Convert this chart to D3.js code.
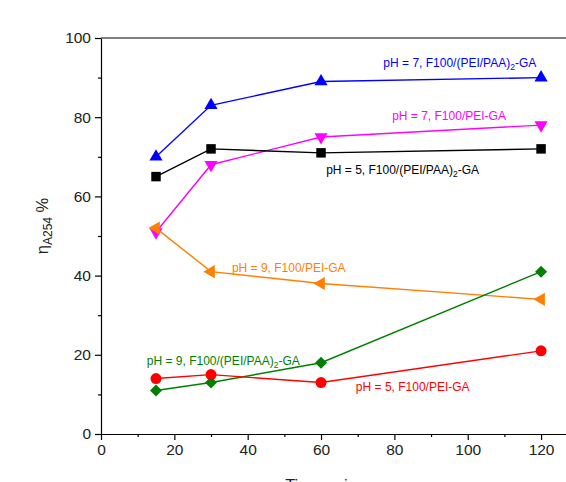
<!DOCTYPE html>
<html>
<head>
<meta charset="utf-8">
<script src="https://cdn.jsdelivr.net/npm/d3@7"></script>
<style>
  body { margin: 0; background: #fff; }
  svg { display: block; font-family: "Liberation Sans", Arial, sans-serif; }
</style>
</head>
<body>
<script>
const width = 566
const height = 482
const margin = ({top: 38, right: 0, bottom: 48, left: 101})

// time, min
const times = [15, 30, 60, 120]

// eta A254 %
const ph7PeiPaa = [70, 83, 89, 90]
const ph7Pei = [51, 68, 75, 78]
const ph5PeiPaa = [65, 72, 71, 72]
const ph9Pei = [52, 41, 38, 34]
const ph9PeiPaa = [11, 13, 18, 41]
const ph5Pei = [14, 15, 13, 21]

const xTicks = [0, 20, 40, 60, 80, 100, 120]
const yTicks = [0, 20, 40, 60, 80, 100]

const series = [
    {name: "pH = 7, F100/(PEI/PAA)", sub: "2", tail: "-GA", values: ph7PeiPaa, color: "#0000ff", shape: "up", lx: 77, ly: 92.6},
    {name: "pH = 7, F100/PEI-GA", values: ph7Pei, color: "#ff00ff", shape: "down", lx: 79.4, ly: 79.4},
    {name: "pH = 5, F100/(PEI/PAA)", sub: "2", tail: "-GA", values: ph5PeiPaa, color: "#000000", shape: "square", lx: 61.4, ly: 65.6},
    {name: "pH = 9, F100/PEI-GA", values: ph9Pei, color: "#ff7f00", shape: "left", lx: 35.7, ly: 40.8},
    {name: "pH = 9, F100/(PEI/PAA)", sub: "2", tail: "-GA", values: ph9PeiPaa, color: "#007f00", shape: "diamond", lx: 12.5, ly: 17.4},
    {name: "pH = 5, F100/PEI-GA", values: ph5Pei, color: "#ff0000", shape: "circle", lx: 69.5, ly: 10.8}
]

const x = d3.scaleLinear()
    .domain([0, 126.8])
    .range([margin.left, width - margin.right])

const y = d3.scaleLinear()
    .domain([0, 100])
    .range([434, margin.top])

const svg = d3.select("body").append("svg")
    .attr("width", width)
    .attr("height", height)

// frame top
svg.append("line")
    .attr("x1", x(0)).attr("x2", width)
    .attr("y1", y(100)).attr("y2", y(100))
    .attr("stroke", "#000").attr("stroke-width", 1.2)

const xAxis = g => g
    .attr("transform", `translate(0,${y(0)})`)
    .call(d3.axisBottom(x).tickValues(xTicks).tickSize(6).tickSizeOuter(0).tickPadding(4))
    .call(g => g.selectAll("text").attr("font-size", 15.5).attr("fill", "#222").attr("font-family", "Liberation Sans, Arial, sans-serif"))

const yAxis = g => g
    .attr("transform", `translate(${x(0)},0)`)
    .call(d3.axisLeft(y).tickValues(yTicks).tickSize(6).tickSizeOuter(0).tickPadding(4))
    .call(g => g.selectAll("text").attr("font-size", 15.5).attr("fill", "#222").attr("font-family", "Liberation Sans, Arial, sans-serif"))

svg.append("g").call(xAxis)
svg.append("g").call(yAxis)

// minor ticks
svg.append("g")
    .attr("transform", `translate(0,${y(0)})`)
    .call(d3.axisBottom(x).tickValues(d3.range(10, 130, 20)).tickSize(3).tickFormat(""))
    .call(g => g.select(".domain").remove())
svg.append("g")
    .attr("transform", `translate(${x(0)},0)`)
    .call(d3.axisLeft(y).tickValues(d3.range(10, 100, 20)).tickSize(3).tickFormat(""))
    .call(g => g.select(".domain").remove())

svg.selectAll(".domain, .tick line").attr("stroke", "#000").attr("stroke-width", 1.2)

// axis titles
svg.append("text")
    .attr("x", x(60))
    .attr("y", 491)
    .attr("text-anchor", "middle")
    .attr("font-size", 16.5)
    .attr("fill", "#222")
    .text("Time, min")

const yt = svg.append("text")
    .attr("transform", `translate(48,226) rotate(-90)`)
    .attr("text-anchor", "middle")
    .attr("font-size", 16.5)
    .attr("fill", "#222")
yt.append("tspan").text("\u03b7")
yt.append("tspan").attr("dy", 4).attr("font-size", 12).text("A254")
yt.append("tspan").attr("dy", -4).text(" %")

const line = d3.line()
    .x((d, i) => x(times[i]))
    .y(d => y(d))

const symbolFor = {
    up: d3.symbol().type(d3.symbolTriangle).size(75)(),
    square: d3.symbol().type(d3.symbolSquare).size(90)(),
    diamond: d3.symbol().type(d3.symbolSquare).size(72)(),
    circle: d3.symbol().type(d3.symbolCircle).size(95)()
}
const rotFor = {up: 0, down: 180, left: -90, square: 0, diamond: 45, circle: 0}

series.forEach(s => {
    svg.append("path")
        .datum(s.values)
        .attr("fill", "none")
        .attr("stroke", s.color)
        .attr("stroke-width", 1.4)
        .attr("d", line)

    svg.append("g").selectAll("path")
        .data(s.values)
        .join("path")
        .attr("transform", (d, i) => `translate(${x(times[i])},${y(d)}) rotate(${rotFor[s.shape]})`)
        .attr("d", s.shape === "down" || s.shape === "left" ? symbolFor.up : symbolFor[s.shape])
        .attr("fill", s.color)

    const t = svg.append("text")
        .attr("x", x(s.lx))
        .attr("y", y(s.ly))
        .attr("font-size", 12)
        .attr("fill", s.color)
    t.append("tspan").text(s.name)
    if (s.sub) {
        t.append("tspan").attr("dy", 3).attr("font-size", 8.5).text(s.sub)
        t.append("tspan").attr("dy", -3).text(s.tail)
    }
})
</script>
</body>
</html>
